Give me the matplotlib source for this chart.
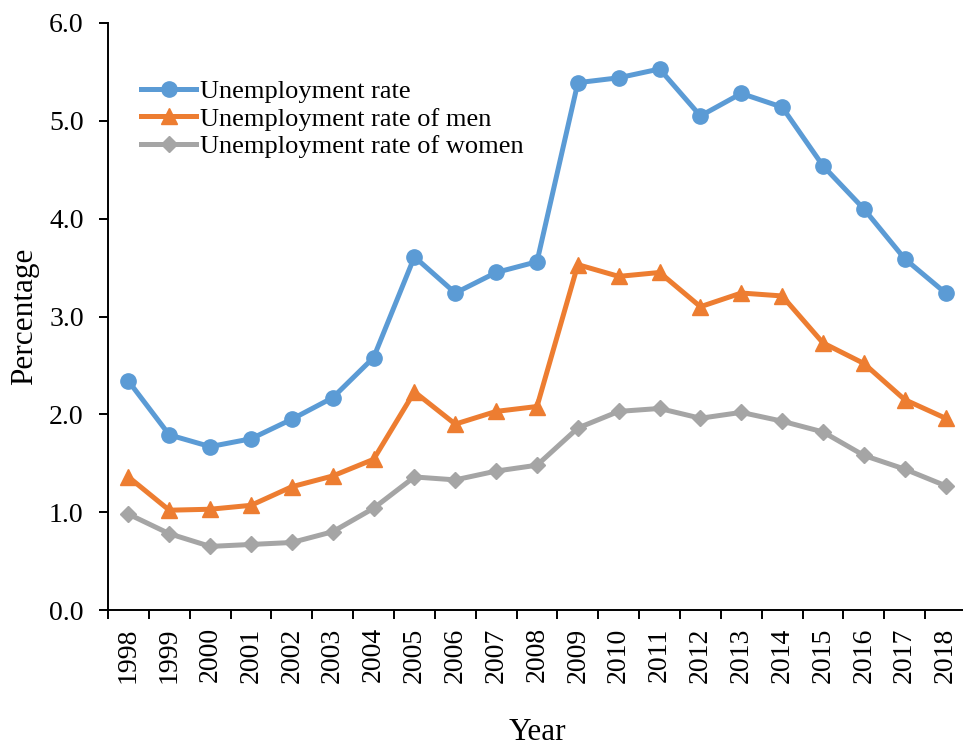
import matplotlib
matplotlib.use("Agg")
import matplotlib.pyplot as plt
import numpy as np

# Annual unemployment rates (%)
years = list(range(1998, 2019))
rate_total = [2.34, 1.79, 1.67, 1.75, 1.95, 2.17, 2.58, 3.61, 3.24, 3.45, 3.56,
              5.39, 5.44, 5.53, 5.05, 5.28, 5.14, 4.54, 4.10, 3.59, 3.24]
rate_men = [1.36, 1.02, 1.03, 1.07, 1.26, 1.37, 1.54, 2.23, 1.90, 2.03, 2.08,
            3.53, 3.41, 3.45, 3.10, 3.24, 3.21, 2.73, 2.52, 2.15, 1.96]
rate_women = [0.98, 0.78, 0.65, 0.67, 0.69, 0.80, 1.04, 1.36, 1.33, 1.42, 1.48,
              1.86, 2.03, 2.06, 1.96, 2.02, 1.93, 1.82, 1.58, 1.44, 1.27]

series_labels = ["Unemployment rate", "Unemployment rate of men",
                 "Unemployment rate of women"]
y_ticks = [0, 1, 2, 3, 4, 5, 6]

plt.rcParams["font.family"] = ["Liberation Serif", "DejaVu Serif"]

fig = plt.figure(figsize=(9.63, 7.47), dpi=100)
ax = fig.add_axes([108 / 963, 137 / 747, 858 / 963, 587 / 747])

x = np.arange(len(years))
ax.plot(x, rate_total, color="#5B9BD5", lw=3.6, marker="o", ms=11,
        label=series_labels[0], solid_joinstyle="round")
ax.plot(x, rate_men, color="#ED7D31", lw=3.6, marker="^", ms=11.5,
        label=series_labels[1], solid_joinstyle="round")
ax.plot(x, rate_women, color="#A5A5A5", lw=3.6, marker="D", ms=8,
        label=series_labels[2], solid_joinstyle="round")

ax.set_xlim(-0.5, len(years) - 0.5)
ax.set_ylim(0, 6)

# category boundaries get the tick marks, centres get the labels
ax.set_xticks(np.arange(len(years) + 1) - 0.5)
ax.set_xticklabels([])
ax.set_xticks(x, minor=True)
ax.set_xticklabels([str(y) for y in years], minor=True, rotation=90,
                   fontsize=20)
ax.tick_params(axis="x", which="major", direction="out", length=6.5,
               width=1.4, color="black")
ax.tick_params(axis="x", which="minor", length=0, pad=12.5)

ax.set_yticks(y_ticks)
ax.set_yticklabels([f"{v:.1f}" for v in y_ticks], fontsize=20)
ax.tick_params(axis="y", direction="out", length=6.5, width=1.4, pad=11,
               color="black")

for side in ("top", "right"):
    ax.spines[side].set_visible(False)
for side in ("left", "bottom"):
    ax.spines[side].set_linewidth(1.4)
    ax.spines[side].set_color("black")

ax.set_ylabel("Percentage", fontsize=22.5)
ax.yaxis.set_label_coords(-0.080, 0.5)
ax.set_xlabel("Year", fontsize=22.5)
ax.xaxis.set_label_coords(0.5, -0.184)

leg = ax.legend(loc="upper left", bbox_to_anchor=(0.0385, 0.903),
                frameon=False, fontsize=19, borderpad=0, borderaxespad=0,
                handlelength=2.1, handletextpad=0.15, labelspacing=0.14)

fig.savefig("out.png", dpi=100)
